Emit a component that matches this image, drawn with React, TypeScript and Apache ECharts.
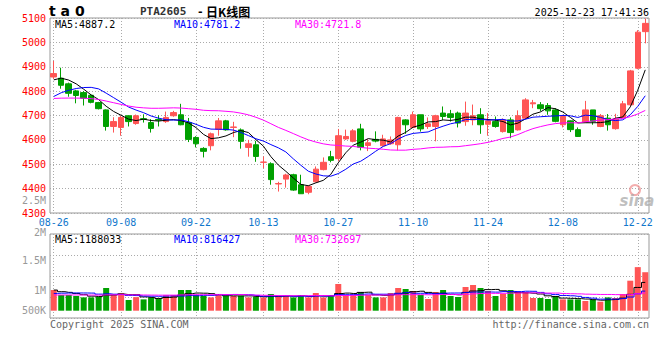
import React, { useEffect, useRef } from 'react';
import * as echarts from 'echarts';

const dates = [
  '08-26', '08-27', '08-28', '08-29',
  '09-01', '09-02', '09-03', '09-04', '09-05',
  '09-08', '09-09', '09-10', '09-11', '09-12',
  '09-15', '09-16', '09-17', '09-18', '09-19',
  '09-22', '09-23', '09-24', '09-25', '09-26',
  '09-29', '09-30', '10-09', '10-10',
  '10-13', '10-14', '10-15', '10-16', '10-17',
  '10-20', '10-21', '10-22', '10-23', '10-24',
  '10-27', '10-28', '10-29', '10-30', '10-31',
  '11-03', '11-04', '11-05', '11-06', '11-07',
  '11-10', '11-11', '11-12', '11-13', '11-14',
  '11-17', '11-18', '11-19', '11-20', '11-21',
  '11-24', '11-25', '11-26', '11-27', '11-28',
  '12-01', '12-02', '12-03', '12-04', '12-05',
  '12-08', '12-09', '12-10', '12-11', '12-12',
  '12-15', '12-16', '12-17', '12-18', '12-19',
  '12-22', '12-23',
];

const opens = [
  4858, 4853, 4830, 4801, 4794, 4783, 4753, 4723, 4655, 4651,
  4699, 4667, 4687, 4671, 4684, 4675, 4699, 4703, 4671, 4610,
  4565, 4576, 4644, 4678, 4651, 4641, 4569, 4580, 4508, 4502,
  4419, 4439, 4457, 4416, 4385, 4428, 4478, 4531, 4523, 4604,
  4594, 4645, 4577, 4602, 4576, 4584, 4580, 4682, 4651, 4703,
  4655, 4655, 4710, 4707, 4710, 4675, 4682, 4703, 4664, 4675,
  4634, 4682, 4641, 4689, 4748, 4744, 4741, 4723, 4662, 4678,
  4642, 4673, 4723, 4655, 4689, 4646, 4692, 4744, 4894, 5044,
];

const closes = [
  4872, 4824, 4791, 4782, 4771, 4754, 4728, 4655, 4675, 4692,
  4675, 4699, 4684, 4647, 4681, 4692, 4712, 4662, 4602, 4584,
  4553, 4625, 4678, 4641, 4653, 4594, 4584, 4532, 4509, 4437,
  4421, 4456, 4394, 4379, 4409, 4480, 4508, 4516, 4617, 4614,
  4637, 4570, 4588, 4595, 4604, 4600, 4692, 4662, 4703, 4645,
  4666, 4699, 4696, 4692, 4669, 4710, 4699, 4662, 4678, 4655,
  4682, 4630, 4699, 4764, 4752, 4728, 4719, 4676, 4696, 4642,
  4614, 4723, 4676, 4699, 4662, 4685, 4748, 4883, 5042, 5078,
];

const highs = [
  4924, 4896, 4835, 4805, 4800, 4786, 4756, 4725, 4693, 4699,
  4700, 4704, 4705, 4685, 4701, 4716, 4719, 4748, 4690, 4615,
  4570, 4630, 4690, 4682, 4674, 4647, 4600, 4596, 4532, 4508,
  4428, 4461, 4461, 4457, 4413, 4491, 4528, 4555, 4645, 4642,
  4644, 4666, 4603, 4635, 4621, 4614, 4695, 4685, 4716, 4703,
  4692, 4703, 4737, 4723, 4716, 4757, 4745, 4730, 4710, 4696,
  4688, 4692, 4721, 4771, 4764, 4755, 4751, 4730, 4703, 4680,
  4651, 4760, 4723, 4706, 4706, 4707, 4760, 4887, 5050, 5098,
];

const lows = [
  4850, 4810, 4777, 4750, 4741, 4750, 4725, 4638, 4630, 4617,
  4655, 4662, 4671, 4630, 4655, 4670, 4695, 4660, 4591, 4569,
  4528, 4557, 4617, 4638, 4611, 4564, 4531, 4510, 4484, 4416,
  4388, 4404, 4391, 4378, 4377, 4425, 4475, 4508, 4512, 4600,
  4590, 4557, 4554, 4590, 4572, 4580, 4557, 4625, 4648, 4634,
  4645, 4594, 4682, 4675, 4651, 4658, 4660, 4625, 4617, 4650,
  4630, 4607, 4638, 4685, 4730, 4717, 4703, 4672, 4651, 4632,
  4612, 4670, 4662, 4652, 4638, 4642, 4690, 4740, 4890, 4996,
];

const volumes = [
  870000, 660000, 660000, 617000, 559000, 559000, 575000, 953000, 660000, 743000,
  449000, 570000, 475000, 559000, 520000, 650000, 660000, 870000, 870000, 660000,
  617000, 559000, 701000, 617000, 617000, 617000, 559000, 588000, 559000, 701000,
  617000, 617000, 559000, 660000, 559000, 743000, 559000, 617000, 1121000, 660000,
  660000, 785000, 660000, 559000, 559000, 743000, 953000, 911000, 827000, 660000,
  491000, 785000, 869000, 617000, 575000, 995000, 1079000, 953000, 827000, 617000,
  701000, 869000, 785000, 785000, 533000, 533000, 491000, 617000, 475000, 475000,
  475000, 407000, 475000, 378000, 559000, 533000, 701000, 1260000, 1830000, 1616000,
];

// closes and volumes of the 29 sessions before 08-26 (estimated so the MA lines start where the picture shows them)
const priorCloses = [
  4790, 4780, 4785, 4783, 4810, 4830, 4850, 4880, 4900, 4870,
  4850, 4760, 4700, 4680, 4670, 4680, 4690, 4680, 4660, 4672,
  4670, 4690, 4710, 4730, 4748, 4790, 4830, 4860, 4880,
];
const priorVolumes = [
  620000, 650000, 600000, 640000, 610000, 630000, 660000, 590000, 620000, 640000,
  600000, 630000, 650000, 610000, 620000, 640000, 630000, 600000, 620000, 660000,
  560000, 590000, 600000, 570000, 600000, 1010000, 800000, 840000, 820000,
];

const labelDates = ['08-26', '09-08', '09-22', '10-13', '10-27', '11-10', '11-24', '12-08', '12-22'];
const volTickLabels = ['2.5M', '2M', '1.5M', '1M', '500K'];
const priceMaLabels = ['MA5:4887.2', 'MA10:4781.2', 'MA30:4721.8'];
const volMaLabels = ['MA5:1188033', 'MA10:816427', 'MA30:732697'];
const titleCode = 'PTA2605';
const titleDash = '-';
const titleName = '日K线图';
const stamp = '2025-12-23 17:41:36';
const footerLeft = 'Copyright 2025 SINA.COM';
const footerRight = 'http://finance.sina.com.cn';

function movingAverage(prior: number[], values: number[], n: number): number[] {
  const all = prior.concat(values);
  const off = prior.length;
  return values.map((_, i) => {
    const end = off + i;
    const start = Math.max(0, end - n + 1);
    let s = 0;
    for (let k = start; k <= end; k++) s += all[k];
    return +(s / (end - start + 1)).toFixed(2);
  });
}

const MONO = "'DejaVu Sans Mono', monospace";
const UP = '#ff5555';
const DOWN = '#00a000';
const MA_COLORS = ['#000000', '#0000ff', '#ff00ff'];

export default function App() {
  const ref = useRef<HTMLDivElement>(null);

  useEffect(() => {
    if (!ref.current) return;
    const chart = echarts.init(ref.current, null, { renderer: 'svg' });
    const labelSet = new Set(labelDates);
    const showFn = (_i: number, v: string) => labelSet.has(v);

    const ma5 = movingAverage(priorCloses, closes, 5);
    const ma10 = movingAverage(priorCloses, closes, 10);
    const ma30 = movingAverage(priorCloses, closes, 30);
    const vma5 = movingAverage(priorVolumes, volumes, 5);
    const vma10 = movingAverage(priorVolumes, volumes, 10);
    const vma30 = movingAverage(priorVolumes, volumes, 30);

    const gridLine = { show: true, lineStyle: { color: '#aaaaaa', type: [1, 2] as any, width: 1 } };

    const text = (t: string, x: number, y: number, fill: string, font: string, align = 'left') => ({
      type: 'text',
      x,
      y,
      silent: true,
      z: 100,
      style: {
        text: t,
        fill,
        font,
        lineHeight: 10,
        align,
        verticalAlign: 'middle',
        textAlign: align,
        textVerticalAlign: 'middle',
      },
    });

    const volLabelY = [200.7, 232, 260.7, 290.7, 310.7];
    const maX = [55, 174, 295];

    const graphic: any[] = [
      text('t a 0', 49, 11, '#000', `bold 14px 'DejaVu Sans'`),
      text(titleCode, 140, 11, '#333', `bold 11px ${MONO}`),
      text(titleDash, 197, 11, '#000', `bold 11px ${MONO}`),
      text(titleName, 206, 11, '#000', `bold 12px 'Noto Sans CJK SC'`),
      text(stamp, 649, 12, '#000', `10px ${MONO}`, 'right'),
      ...priceMaLabels.map((t, i) => text(t, maX[i], 24, MA_COLORS[i], `10px ${MONO}`)),
      ...volMaLabels.map((t, i) => text(t, maX[i], 239, MA_COLORS[i], `10px ${MONO}`)),
      ...volTickLabels.map((t, i) => text(t, 46, volLabelY[i], '#999999', `10px ${MONO}`, 'right')),
      text(footerLeft, 50, 324, '#666666', `10px ${MONO}`),
      text(footerRight, 649, 324, '#666666', `10px ${MONO}`, 'right'),
      {
        type: 'circle',
        silent: true,
        z: 90,
        shape: { cx: 635, cy: 190, r: 5 },
        style: { fill: 'none', stroke: 'rgba(240,140,140,0.7)', lineWidth: 2 },
      },
      text('sina', 637, 201, 'rgba(170,170,170,0.75)', `italic bold 15px 'DejaVu Sans'`, 'center'),
    ];

    const option: any = {
      animation: false,
      backgroundColor: '#ffffff',
      grid: [
        { left: 50, top: 18, width: 599, height: 195, show: true, borderColor: '#999999', borderWidth: 1 },
        { left: 50, top: 234, width: 599, height: 84, show: true, borderColor: '#999999', borderWidth: 1 },
      ],
      xAxis: [
        {
          type: 'category',
          gridIndex: 0,
          data: dates,
          boundaryGap: true,
          axisLine: { show: false },
          axisTick: { show: false },
          axisLabel: {
            interval: showFn,
            color: '#1177cc',
            fontFamily: MONO,
            fontSize: 10,
            lineHeight: 10,
            margin: 4,
          },
          splitLine: { ...gridLine, interval: showFn, alignWithLabel: true },
        },
        {
          type: 'category',
          gridIndex: 1,
          data: dates,
          boundaryGap: true,
          axisLine: { show: false },
          axisTick: { show: false },
          axisLabel: { show: false },
          splitLine: { ...gridLine, interval: showFn, alignWithLabel: true },
        },
      ],
      yAxis: [
        {
          type: 'value',
          gridIndex: 0,
          min: 4300,
          max: 5100,
          interval: 100,
          axisLine: { show: false },
          axisTick: { show: false },
          axisLabel: {
            color: '#ff0000',
            fontFamily: MONO,
            fontSize: 10,
            lineHeight: 10,
            margin: 4,
            formatter: (v: number) => String(v),
          },
          splitLine: gridLine,
        },
        {
          type: 'value',
          gridIndex: 1,
          min: 0,
          max: 4,
          interval: 1,
          axisLine: { show: false },
          axisTick: { show: false },
          axisLabel: { show: false },
          splitLine: gridLine,
        },
        {
          type: 'value',
          gridIndex: 1,
          min: -306600,
          max: 3221400,
          show: false,
          splitLine: { show: false },
        },
      ],
      series: [
        {
          type: 'candlestick',
          xAxisIndex: 0,
          yAxisIndex: 0,
          barWidth: 6,
          data: dates.map((_, i) => [opens[i], closes[i], lows[i], highs[i]]),
          itemStyle: { color: UP, color0: DOWN, borderColor: UP, borderColor0: DOWN, borderWidth: 1 },
        },
        ...[ma5, ma10, ma30].map((d, i) => ({
          type: 'line',
          xAxisIndex: 0,
          yAxisIndex: 0,
          data: d,
          symbol: 'none',
          lineStyle: { color: MA_COLORS[i], width: 1 },
          z: 5,
        })),
        {
          type: 'bar',
          xAxisIndex: 1,
          yAxisIndex: 2,
          barWidth: 6,
          data: volumes.map((v, i) => ({ value: v, itemStyle: { color: closes[i] >= opens[i] ? UP : DOWN } })),
        },
        ...[vma5, vma10, vma30].map((d, i) => ({
          type: 'line',
          xAxisIndex: 1,
          yAxisIndex: 2,
          data: d,
          symbol: 'none',
          step: 'middle',
          lineStyle: { color: MA_COLORS[i], width: 1 },
          z: 5,
        })),
      ],
      graphic,
    };

    chart.setOption(option);
    return () => chart.dispose();
  }, []);

  return (
    <div
      ref={ref}
      style={{ position: 'absolute', left: 0, top: 0, width: 660, height: 360, background: '#fff' }}
    />
  );
}
